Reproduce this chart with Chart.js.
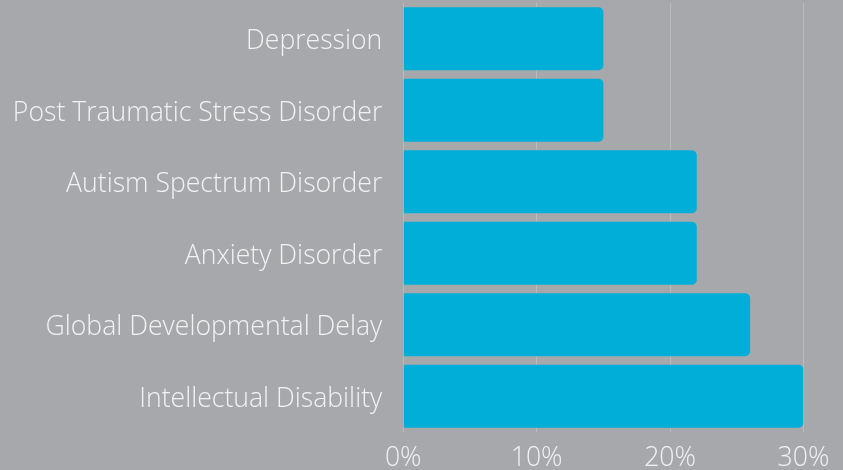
<!DOCTYPE html>
<html>
<head>
<meta charset="utf-8">
<script src="https://cdn.jsdelivr.net/npm/chart.js@4/dist/chart.umd.min.js"></script>
<style>
  html, body { margin: 0; padding: 0; background: #a7a8ab; }
  #wrap { width: 843px; height: 470px; }
</style>
</head>
<body>
<div id="wrap"><canvas id="c" width="843" height="470"></canvas></div>
<script>
const categories = [
  "Depression",
  "Post Traumatic Stress Disorder",
  "Autism Spectrum Disorder",
  "Anxiety Disorder",
  "Global Developmental Delay",
  "Intellectual Disability"
];
const percentages = [15, 15, 22, 22, 26, 30];
const xTicks = [0, 10, 20, 30];

const labelFont = { family: "'Open Sans', sans-serif", size: 26.6, weight: 300 };

// Axes should not reserve extra edge room for half-labels; the layout padding handles that.
function noEdgePadding(axis) {
  axis.paddingTop = 0;
  axis.paddingBottom = 0;
  axis.paddingLeft = 0;
  axis.paddingRight = 0;
}

new Chart(document.getElementById("c"), {
  type: "bar",
  data: {
    labels: categories,
    datasets: [{
      data: percentages,
      backgroundColor: "#00aed8",
      borderRadius: { topRight: 5, bottomRight: 5, topLeft: 0, bottomLeft: 0 },
      borderSkipped: "start",
      barPercentage: 0.88,
      categoryPercentage: 1.0
    }]
  },
  options: {
    indexAxis: "y",
    responsive: false,
    animation: false,
    layout: { padding: { top: 3, right: 39.5, left: 3, bottom: 0 } },
    plugins: { legend: { display: false }, tooltip: { enabled: false } },
    scales: {
      x: {
        min: 0,
        max: 30,
        afterBuildTicks: (axis) => { axis.ticks = xTicks.map(v => ({ value: v })); },
        afterFit: (axis) => { noEdgePadding(axis); axis.height = 38; },
        border: { display: false },
        grid: { color: "rgba(255,255,255,0.22)", lineWidth: 1, drawTicks: false },
        ticks: {
          color: "#f2f2f2",
          font: labelFont,
          padding: 10,
          maxRotation: 0,
          callback: (v) => v + "%"
        }
      },
      y: {
        afterFit: noEdgePadding,
        border: { display: false },
        grid: { display: false, drawTicks: false },
        ticks: {
          color: "#f2f2f2",
          font: labelFont,
          padding: 21,
          labelOffset: 3
        }
      }
    }
  }
});
</script>
</body>
</html>
